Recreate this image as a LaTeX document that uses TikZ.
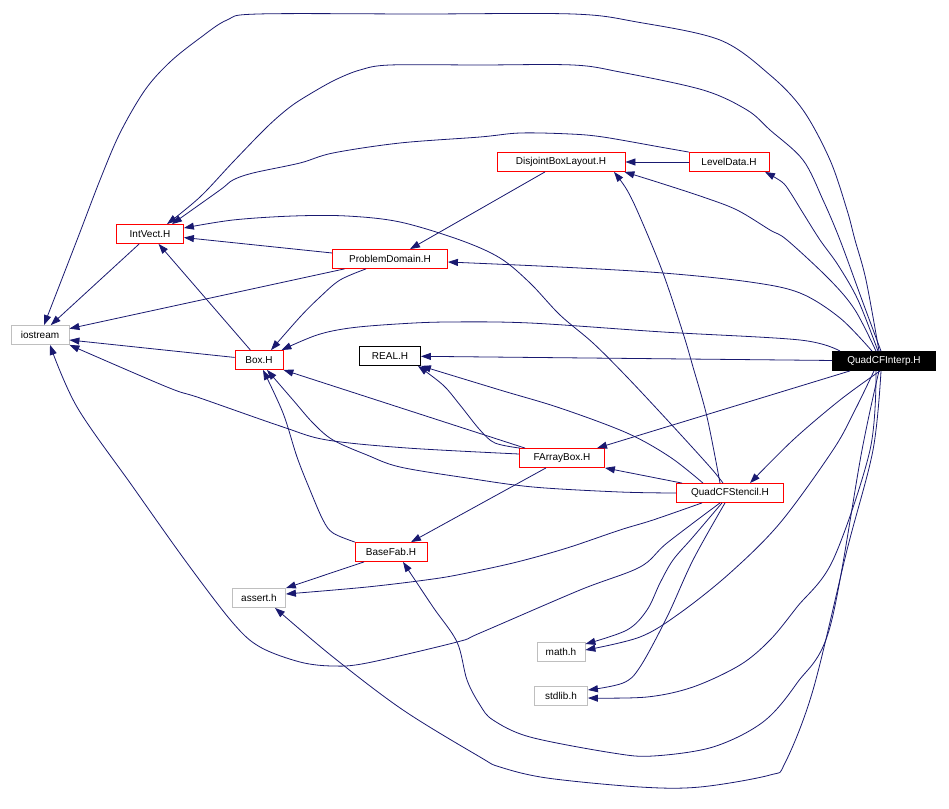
\documentclass[tikz,border=0pt]{standalone}
\usepackage{fontspec}
\setmainfont{Liberation Sans}
\usetikzlibrary{arrows.meta}
\definecolor{edgeblue}{RGB}{25,25,112}
\definecolor{extgray}{RGB}{191,191,191}
\begin{document}
\begin{tikzpicture}[
        x=1pt, y=-1pt,
        >={Triangle[length=10pt,width=7pt]},
        hfile/.style={
            rectangle,
            draw=red,
            line width=0.8pt,
            minimum height=19pt,
            inner sep=0pt,
            fill=white,
            font=\fontsize{10}{12}\selectfont
        },
        sysfile/.style={hfile, draw=extgray},
        plainfile/.style={hfile, draw=black},
        topfile/.style={hfile, draw=black, fill=black, text=white},
        dep/.style={
            ->,
            draw=edgeblue,
            line width=0.8pt
        },
        curve/.style={dep, smooth, tension=0.55}
    ]

    \useasboundingbox (0,0) rectangle (949,808);

    \node[sysfile, minimum width=58pt]    (h_iostream)   at (40,335)  {iostream};
    \node[hfile, minimum width=67pt]      (h_intvect)    at (150,234) {IntVect.H};
    \node[hfile, minimum width=115pt]     (h_probdom)    at (390,259) {ProblemDomain.H};
    \node[hfile, minimum width=128pt]     (h_dbl)        at (561,162) {DisjointBoxLayout.H};
    \node[hfile, minimum width=80pt]      (h_leveldata)  at (729,162) {LevelData.H};
    \node[hfile, minimum width=48pt]      (h_box)        at (259,360) {Box.H};
    \node[plainfile, minimum width=61pt]  (h_real)       at (390,356) {REAL.H};
    \node[topfile, minimum width=103pt]   (h_quadinterp) at (884,361) {QuadCFInterp.H};
    \node[hfile, minimum width=85pt]      (h_farraybox)  at (562,458) {FArrayBox.H};
    \node[hfile, minimum width=107pt]     (h_stencil)    at (730,493) {QuadCFStencil.H};
    \node[hfile, minimum width=72pt]      (h_basefab)    at (391,552) {BaseFab.H};
    \node[sysfile, minimum width=53pt]    (h_assert)     at (259,598) {assert.h};
    \node[sysfile, minimum width=48pt]    (h_math)       at (561,652) {math.h};
    \node[sysfile, minimum width=53pt]    (h_stdlib)     at (561,696) {stdlib.h};

    % QuadCFInterp.H, upper edges
    \draw[curve] plot coordinates {([xshift=-5pt]h_quadinterp.north) (866,280) (855,240) (847,210) (830,160) (803,110) (770,75) (720,40) (637,22) (573,14) (420,14) (258,14) (227,20) (200,38) (170,62) (145,90) (120,133) (100,180) (77,240) ([xshift=4pt]h_iostream.north)};
    \draw[curve] plot coordinates {([xshift=-3pt]h_quadinterp.north) (862,300) (840,240) (823,200) (803,160) (770,130) (747,110) (703,90) (620,72) (573,65) (480,65) (390,65) (360,70) (335,80) (310,94) (290,107) (267,127) (233,162) (200,197) ([xshift=17pt]h_intvect.north)};
    \draw[curve] plot coordinates {([xshift=-6pt]h_quadinterp.north) (858,300) (838,265) (820,240) (803,213) (790,192) (782,182) ([xshift=36pt]h_leveldata.south)};
    \draw[curve] plot coordinates {([xshift=-8pt]h_quadinterp.north) (855,310) (830,280) (787,240) (770,230) (737,210) (703,197) (657,182) ([xshift=-1pt]h_dbl.south east)};
    \draw[curve] plot coordinates {([xshift=-12pt]h_quadinterp.north) (840,318) (800,293) (750,282) (663,273) (560,267) ([yshift=-3pt]h_probdom.east)};
    \draw[curve] plot coordinates {([xshift=-44pt]h_quadinterp.north) (800,340) (663,332) (530,323) (447,322) (397,324) (350,328) (317,335) ([xshift=-2pt]h_box.north east)};
    \draw[dep] (h_quadinterp) -- (h_real);

    % QuadCFInterp.H, lower edges
    \draw[dep] ([xshift=-34pt]h_quadinterp.south) -- ([xshift=35pt]h_farraybox.north);
    \draw[curve] plot coordinates {([xshift=-4pt]h_quadinterp.south) (840,400) (793,440) ([xshift=20pt]h_stencil.north)};
    \draw[curve] plot coordinates {([xshift=-10pt]h_quadinterp.south) (855,410) (833,450) (780,523) (730,573) (680,613) (640,637) ([yshift=2pt]h_math.east)};
    \draw[curve] plot coordinates {([xshift=-8pt]h_quadinterp.south) (870,450) (833,560) (797,607) (770,640) (740,665) (693,687) (647,697) ([yshift=-2pt]h_stdlib.east)};
    \draw[curve] plot coordinates {([xshift=-5pt]h_quadinterp.south) (862,450) (830,627) (797,683) (763,722) (713,747) (653,756) (613,753) (530,737) (493,720) (480,705) (467,680) (457,642) (433,607) ([xshift=12pt]h_basefab.south)};
    \draw[curve] plot coordinates {([xshift=-3pt]h_quadinterp.south) (873,450) (847,550) (813,690) (785,763) (770,775) (700,787) (640,787) (547,778) (500,767) (480,757) (403,710) (333,657) ([xshift=16pt]h_assert.south)};

    \draw[curve] plot coordinates {([xshift=-40pt]h_leveldata.north) (660,147) (603,137) (570,134) (520,133) (480,137) (400,143) (333,153) (300,163) (253,173) (233,180) (220,190) ([xshift=22pt]h_intvect.north)};
    \draw[dep] (h_leveldata) -- (h_dbl);
    \draw[dep] ([xshift=-16pt]h_dbl.south) -- ([xshift=20pt]h_probdom.north);

    \draw[dep] (h_probdom) -- (h_intvect);
    \draw[dep] (h_probdom) -- (h_iostream);
    \draw[curve] plot coordinates {([xshift=-24pt]h_probdom.south) (340,280) (320,297) (300,317) ([xshift=12pt]h_box.north)};
    \draw[dep] (h_intvect) -- (h_iostream);
    \draw[dep] (h_box) -- (h_intvect);
    \draw[dep] (h_box) -- ([yshift=-5pt]h_iostream.east);

    \draw[curve] plot coordinates {([xshift=1pt]h_farraybox.north west) (495,443) (480,430) (460,405) (443,385) ([xshift=-3pt]h_real.south east)};
    \draw[dep] ([xshift=6pt]h_farraybox.north west) -- (h_box.south east);
    \draw[curve] plot coordinates {([yshift=4pt]h_farraybox.west) (407,448) (327,440) (283,427) (200,398) (167,387) (h_iostream.south east)};
    \draw[dep] ([xshift=-16pt]h_farraybox.south) -- ([xshift=20pt]h_basefab.north);

    \draw[curve] plot coordinates {([xshift=-36pt]h_basefab.north) (333,533) (323,520) (310,490) (297,457) (283,413) ([xshift=4pt]h_box.south)};
    \draw[dep] ([xshift=-27pt]h_basefab.south) -- (h_assert.north east);

    % QuadCFStencil.H
    \draw[curve] plot coordinates {([xshift=-7pt]h_stencil.north) (710,467) (670,423) (627,377) (593,343) (560,315) (530,283) (500,258) (460,240) (400,222) (347,216) (293,216) (233,220) ([yshift=6pt]h_intvect.east)};
    \draw[curve] plot coordinates {([xshift=-10pt]h_stencil.north) (707,417) (693,367) (683,333) (663,273) (640,217) (627,190) ([xshift=53pt]h_dbl.south)};
    \draw[curve] plot coordinates {([xshift=-27pt]h_stencil.north) (670,457) (627,433) (560,408) (500,390) (h_real.south east)};
    \draw[curve] plot coordinates {(h_stencil.west) (620,492) (533,487) (467,478) (400,467) (367,455) (333,440) (313,423) (293,400) ([xshift=8pt]h_box.south)};
    \draw[dep] ([xshift=6pt]h_stencil.north west) -- (h_farraybox.south east);
    \draw[curve] plot coordinates {([xshift=-28pt]h_stencil.south) (653,520) (620,530) (567,548) (517,562) (467,573) (433,579) (367,587) ([yshift=4pt]h_assert.east)};
    \draw[curve] plot coordinates {([xshift=-10pt]h_stencil.south) (667,543) (640,567) (580,590) (480,633) (457,642) (367,663) (333,666) (300,662) (260,647) (233,623) (187,563) (133,487) (77,407) ([xshift=10pt]h_iostream.south)};
    \draw[curve] plot coordinates {([xshift=-8pt]h_stencil.south) (693,537) (673,560) (660,583) (647,610) (627,630) ([yshift=8pt]h_math.east)};
    \draw[curve] plot coordinates {([xshift=-5pt]h_stencil.south) (693,560) (667,617) (640,667) (623,683) ([yshift=6pt]h_stdlib.east)};

\end{tikzpicture}
\end{document}
